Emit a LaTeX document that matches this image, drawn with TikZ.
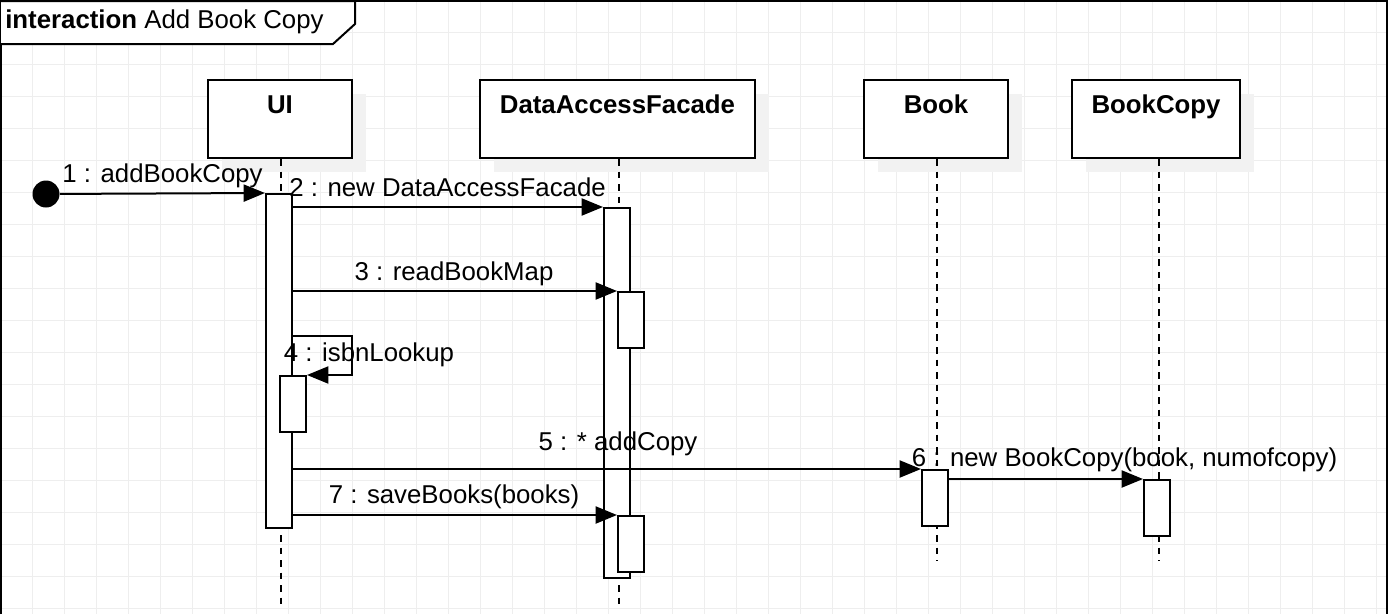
\documentclass[tikz,border=0pt]{standalone}
\usepackage{fontspec}
\setmainfont{Liberation Sans}
\usetikzlibrary{arrows.meta,shadows,calc}
\definecolor{gridc}{RGB}{238,238,238}
\definecolor{shadowc}{RGB}{242,242,242}
\begin{document}
\begin{tikzpicture}[x=0.75pt,y=-0.75pt,
  lw/.style={line width=1.5pt},
  hdr/.style={draw, lw, fill=white, inner sep=0, minimum height=58.5pt,
    general shadow={fill=shadowc, shadow xshift=10.5pt, shadow yshift=-10.5pt}},
  hdtext/.style={font=\fontsize{19.35}{23}\selectfont\bfseries, anchor=base, inner sep=0},
  act/.style={draw, lw, fill=white, inner sep=0, minimum width=19.5pt},
  life/.style={lw, dash pattern=on 4.9pt off 4.5pt},
  msg/.style={lw, -{Triangle[length=16pt,width=12.75pt]}},
  lbl/.style={font=\fontsize{19.35}{23}\selectfont, anchor=base, inner sep=0}
]
\useasboundingbox (0,0) rectangle (1388,614);
% grid
\foreach \i in {1,...,43} \draw[gridc, line width=0.75pt] (\i*32.02,0) -- (\i*32.02,614);
\foreach \j in {1,...,19} \draw[gridc, line width=0.75pt] (0,\j*32.02) -- (1388,\j*32.02);
% frame
\draw[lw] (1,614) -- (1,1) -- (1387,1) -- (1387,614);
\draw[lw, fill=white] (1,1) -- (355,1) -- (355,24) -- (333,44) -- (1,44);
\node[font=\fontsize{19.35}{23}\selectfont, anchor=base west, inner sep=0] (title) at (5,28) {\textbf{interaction} Add Book Copy};
% headers
\node[hdr, minimum width=108pt] (ui) at (280,119) {};
\node[hdr, minimum width=206.25pt] (daf) at (617.5,119) {};
\node[hdr, minimum width=108pt] (book) at (936,119) {};
\node[hdr, minimum width=126pt] (bc) at (1156,119) {};
\node[hdtext] (uit) at (280,113) {UI};
\node[hdtext] (daft) at (617.5,113) {DataAccessFacade};
\node[hdtext] (bookt) at (936,113) {Book};
\node[hdtext] (bct) at (1156,113) {BookCopy};
% lifelines
\coordinate (uiend) at (281,606);
\coordinate (dafend) at (619,606);
\coordinate (bookend) at (937,561);
\coordinate (bcend) at (1159,561);
\draw[life] (uiend |- ui.south) -- (uiend);
\draw[life] (dafend |- daf.south) -- (dafend);
\draw[life] (bookend |- book.south) -- (bookend);
\draw[life] (bcend |- bc.south) -- (bcend);
% activations
\node[act, minimum height=250.5pt] (ui0) at (279,361) {};
\node[act, minimum height=42pt] (ui1) at (293,404) {};
\node[act, minimum height=277.5pt] (daf0) at (617,393) {};
\node[act, minimum height=42pt] (daf1) at (631,320) {};
\node[act, minimum height=42pt] (daf2) at (631,544) {};
\node[act, minimum height=42pt] (book0) at (935,498) {};
\node[act, minimum height=42pt] (bc0) at (1157,508) {};
% start
\node[circle, fill=black, inner sep=0, minimum size=20.25pt] (start) at (46,194) {};
% messages
\draw[msg] (start) -- (ui0.north west);
\draw[msg] (ui0.east |- daf0.north) -- (daf0.north west);
\draw[msg] (ui0.east |- daf1.north) -- (daf1.north west);
\coordinate (s4) at (352,336);
\draw[msg] (ui0.east |- s4) -- (s4) |- (ui1.north east);
\draw[msg] (ui0.east |- book0.north) -- (book0.north west);
\draw[msg] (book0.east |- bc0.north) -- (bc0.north west);
\draw[msg] (ui0.east |- daf2.north) -- (daf2.north west);
% labels
\node[lbl] (l1) at (162.5,182) {1 : addBookCopy};
\node[lbl] (l2) at (447.5,196) {2 : new DataAccessFacade};
\node[lbl] (l3) at (454,280) {3 : readBookMap};
\node[lbl] (l4) at (369,361) {4 : isbnLookup};
\node[lbl] (l5) at (618,450) {5 : * addCopy};
\node[lbl] (l6) at (1124.5,466) {6 : new BookCopy(book, numofcopy)};
\node[lbl] (l7) at (454,503) {7 : saveBooks(books)};
\end{tikzpicture}
\end{document}
